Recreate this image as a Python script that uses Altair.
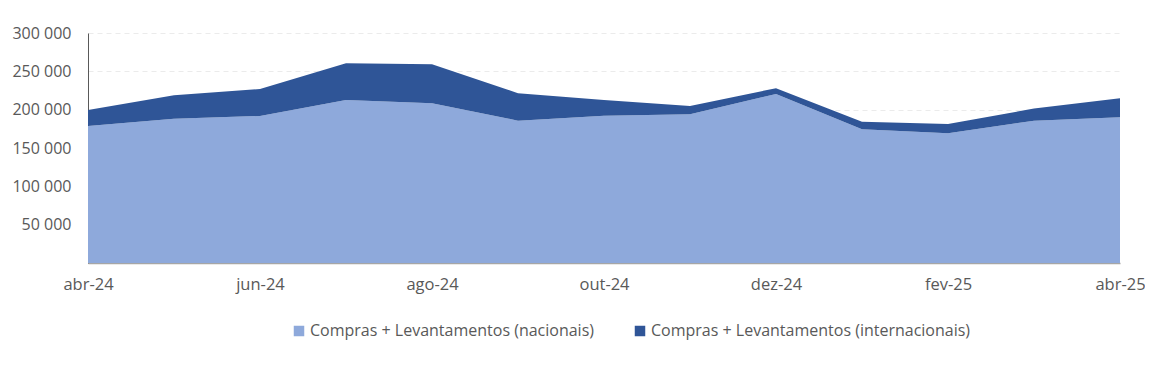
import altair as alt
import pandas as pd

months = ["abr-24", "mai-24", "jun-24", "jul-24", "ago-24", "set-24", "out-24",
          "nov-24", "dez-24", "jan-25", "fev-25", "mar-25", "abr-25"]
nacionais = [178800, 188300, 191800, 212700, 208400, 185700, 192200,
             194000, 220500, 174500, 169200, 185700, 190100]
totais = [199700, 218800, 227000, 260600, 259300, 221500, 212700,
          204900, 228000, 184400, 181400, 201400, 214900]
internacionais = [t - n for t, n in zip(totais, nacionais)]

s_nac = "Compras + Levantamentos (nacionais)"
s_int = "Compras + Levantamentos (internacionais)"

rows = []
for i, m in enumerate(months):
    rows.append({"mes": m, "serie": s_nac, "valor": nacionais[i], "ord": 0})
    rows.append({"mes": m, "serie": s_int, "valor": internacionais[i], "ord": 1})
df = pd.DataFrame(rows)

FONT = "Open Sans"
TXT = "#595959"

chart = alt.Chart(df).mark_area(opacity=1, line=False).encode(
    x=alt.X("mes:O", sort=months, title=None,
            scale=alt.Scale(type="point", padding=0),
            axis=alt.Axis(values=months[::2], labelAngle=0, ticks=False,
                          domainColor="#a6a6a6", domainWidth=1.5,
                          labelPadding=13, labelFontSize=16.5, labelColor=TXT,
                          labelFont=FONT, grid=False)),
    y=alt.Y("valor:Q", stack="zero", title=None,
            scale=alt.Scale(domain=[0, 300000], nice=False),
            axis=alt.Axis(values=[0, 50000, 100000, 150000, 200000, 250000, 300000],
                          labelExpr="datum.value == 0 ? '' : replace(format(datum.value, ',d'), ',', ' ')",
                          ticks=False, domainColor="#595959", domainWidth=1,
                          labelPadding=17, labelFontSize=16, labelColor=TXT,
                          labelFont=FONT, grid=True, gridDash=[5, 4],
                          gridColor="#ebebeb", gridWidth=1)),
    color=alt.Color("serie:N", sort=[s_nac, s_int],
                    scale=alt.Scale(domain=[s_nac, s_int], range=["#8EA9DB", "#2F5597"]),
                    legend=alt.Legend(title=None, orient="none", direction="horizontal",
                                      legendX=203, legendY=290, symbolType="square",
                                      symbolSize=110, labelFontSize=16, labelColor=TXT,
                                      labelFont=FONT, columnPadding=38, symbolOpacity=1,
                                      labelOffset=3, labelLimit=0)),
    order=alt.Order("ord:Q", sort="ascending"),
).properties(
    width=1032, height=230,
    background="white",
    autosize=alt.AutoSizeParams(type="none"),
    padding={"left": 80, "top": 25, "right": 25, "bottom": 95},
).configure_view(stroke="transparent", strokeWidth=0)

chart.save("out.html", embed_options={"renderer": "svg", "actions": False})
